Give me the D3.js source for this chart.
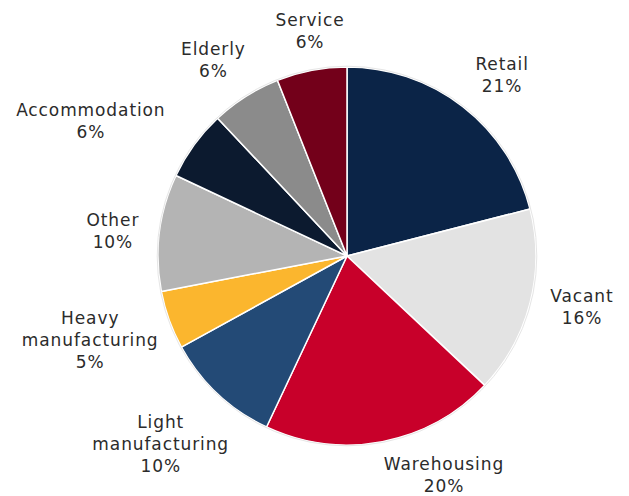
<!DOCTYPE html>
<html>
<head>
<meta charset="utf-8">
<script src="https://cdn.jsdelivr.net/npm/d3@7"></script>
<style>
  html, body { margin: 0; padding: 0; background: #ffffff; }
  svg { display: block; }
</style>
</head>
<body>
<svg id="chart" width="629" height="496"></svg>
<script>
// ---- data ----
const categories = ["Retail", "Vacant", "Warehousing", "Light manufacturing", "Heavy manufacturing", "Other", "Accommodation", "Elderly", "Service"];
const shares = [21, 16, 20, 10, 5, 10, 6, 6, 6];
const labelLines = [["Retail"], ["Vacant"], ["Warehousing"], ["Light", "manufacturing"], ["Heavy", "manufacturing"], ["Other"], ["Accommodation"], ["Elderly"], ["Service"]];
const colors = ["#0b2447", "#e3e3e3", "#c8002a", "#234a76", "#fbb62e", "#b4b4b4", "#0c1a2f", "#8b8b8b", "#73001a"];

// ---- layout (not data) ----
const cx = 347, cy = 256, radius = 189, labelRadius = 240;
const labelNudge = [[8, 9], [2.5, -9], [52, -17], [-22, 13], [-31, 3], [4, 5], [-62, 6], [-5, 7], [8, 11]];
const lineHeight = 22;

const svg = d3.select("#chart");
const g = svg.append("g").attr("transform", `translate(${cx},${cy})`);

const pie = d3.pie().value(d => d.value).sort(null);
const data = categories.map((c, i) => ({ name: c, value: shares[i], i }));
const arcs = pie(data);
const arc = d3.arc().innerRadius(0).outerRadius(radius);
const labelArc = d3.arc().innerRadius(labelRadius).outerRadius(labelRadius);

g.selectAll("path.slice")
  .data(arcs)
  .join("path")
  .attr("class", "slice")
  .attr("d", arc)
  .attr("fill", d => colors[d.data.i])
  .attr("stroke", "#ffffff")
  .attr("stroke-width", 1.5)
  .attr("stroke-linejoin", "round");

g.append("circle").attr("r", radius + 0.8).attr("fill", "none").attr("stroke", "#e6e6e6").attr("stroke-width", 1);

const labels = g.selectAll("text.lbl")
  .data(arcs)
  .join("text")
  .attr("class", "lbl")
  .attr("text-anchor", "middle")
  .attr("font-family", "'DejaVu Sans', sans-serif")
  .attr("font-size", 17)
  .attr("letter-spacing", "0.9px")
  .attr("fill", "#2b2b2b")
  .each(function(d) {
    const [x, y] = labelArc.centroid(d);
    const n = labelNudge[d.data.i];
    const lines = labelLines[d.data.i].concat([d.data.value + "%"]);
    const total = lines.length;
    const t = d3.select(this);
    lines.forEach((ln, k) => {
      t.append("tspan")
        .attr("x", x + n[0])
        .attr("y", y + n[1] + (k - (total - 1) / 2) * lineHeight)
        .attr("dy", "0.36em")
        .text(ln);
    });
  });
</script>
</body>
</html>
